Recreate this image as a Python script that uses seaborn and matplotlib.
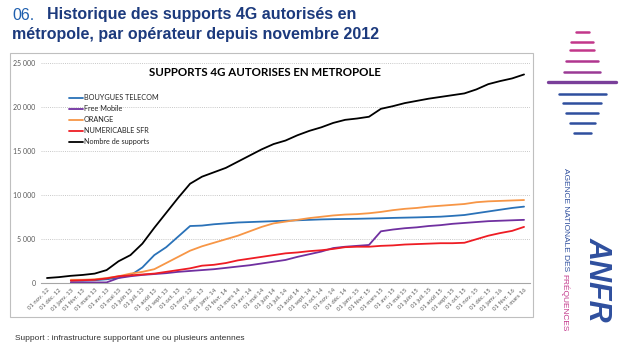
import numpy as np
import pandas as pd
import matplotlib
matplotlib.use("Agg")
import matplotlib.pyplot as plt
import seaborn as sns
from matplotlib.lines import Line2D
from matplotlib.patches import Rectangle

months = ["01 nov. 12", "01 déc. 12",
          "01 janv. 13", "01 févr. 13", "01 mars 13", "01 avr. 13", "01 mai 13", "01 juin 13",
          "01 juil. 13", "01 août 13", "01 sept. 13", "01 oct. 13", "01 nov. 13", "01 déc. 13",
          "01 janv. 14", "01 févr. 14", "01 mars 14", "01 avr. 14", "01 mai 14", "01 juin 14",
          "01 juil. 14", "01 août 14", "01 sept. 14", "01 oct. 14", "01 nov. 14", "01 déc. 14",
          "01 janv. 15", "01 févr. 15", "01 mars 15", "01 avr. 15", "01 mai 15", "01 juin 15",
          "01 juil. 15", "01 août 15", "01 sept. 15", "01 oct. 15", "01 nov. 15", "01 déc. 15",
          "01 janv. 16", "01 févr. 16", "01 mars 16"]

nan = np.nan
bouygues = [nan, nan, 300, 300, 350, 450, 650, 900, 1800, 3200, 4100, 5300, 6500, 6550,
            6700, 6800, 6900, 6950, 7000, 7050, 7100, 7150, 7200, 7250, 7280, 7300,
            7320, 7350, 7380, 7420, 7450, 7480, 7520, 7560, 7650, 7750, 7950, 8150,
            8350, 8550, 8700]
free = [nan, nan, 100, 100, 100, 100, 600, 800, 950, 1050, 1150, 1300, 1400, 1500,
        1600, 1750, 1900, 2050, 2250, 2450, 2650, 3000, 3300, 3600, 4000, 4150,
        4250, 4350, 5900, 6100, 6250, 6350, 6500, 6600, 6750, 6850, 6950, 7050,
        7100, 7150, 7200]
orange = [nan, nan, 400, 400, 450, 600, 800, 1100, 1300, 1600, 2300, 3000, 3700, 4200,
          4600, 5000, 5400, 5900, 6400, 6800, 7000, 7200, 7400, 7550, 7700, 7800,
          7850, 7950, 8100, 8300, 8450, 8550, 8700, 8800, 8900, 9000, 9200, 9300,
          9350, 9400, 9450]
sfr = [nan, nan, 300, 350, 400, 550, 800, 900, 1000, 1100, 1300, 1500, 1700, 2000,
       2100, 2300, 2600, 2800, 3000, 3200, 3400, 3500, 3650, 3750, 3900, 4100,
       4150, 4150, 4250, 4300, 4400, 4450, 4500, 4550, 4550, 4600, 5000, 5400,
       5700, 5950, 6400]
total = [600, 700, 850, 950, 1100, 1500, 2500, 3200, 4500, 6300, 8000, 9700, 11300, 12100,
         12600, 13100, 13800, 14500, 15200, 15800, 16200, 16800, 17300, 17700, 18200, 18550,
         18700, 18900, 19800, 20100, 20450, 20700, 20950, 21150, 21350, 21550, 22000, 22600,
         22950, 23250, 23700]

series_names = ["BOUYGUES TELECOM", "Free Mobile", "ORANGE", "NUMERICABLE SFR", "Nombre de supports"]
series_values = [bouygues, free, orange, sfr, total]
colors = ["#2a72b8", "#7030a0", "#f79646", "#ee1c24", "#000000"]
yticks = [0, 5000, 10000, 15000, 20000, 25000]
ytick_labels = ["0", "5 000", "10 000", "15 000", "20 000", "25 000"]

rows = []
for name, vals in zip(series_names, series_values):
    for i, v in enumerate(vals):
        rows.append({"idx": i, "serie": name, "value": v})
df = pd.DataFrame(rows).dropna()

sns.set_theme(style="white")
plt.rcParams["font.family"] = ["Liberation Sans", "DejaVu Sans"]

fig = plt.figure(figsize=(6.2, 3.5), dpi=100)
fig.patch.set_facecolor("white")
W, H = 620, 350
ax = fig.add_axes([41 / W, 1 - 283.3 / H, (530 - 41) / W, (283.3 - 63) / H])

sns.lineplot(data=df, x="idx", y="value", hue="serie", hue_order=series_names,
             palette=colors, linewidth=1.3, estimator=None, sort=False, ax=ax)

ax.set_xlim(-0.5, len(months) - 0.5)
ax.set_ylim(0, 25000)
ax.set_xlabel("")
ax.set_ylabel("")

ax.set_yticks(yticks)
ax.set_yticklabels(ytick_labels, fontsize=5, color="#595959", family="Lato")
ax.set_xticks(range(len(months)))
ax.set_xticklabels(months, rotation=45, ha="right", rotation_mode="anchor",
                   fontsize=4.3, color="#595959", family="Lato")
ax.tick_params(axis="x", length=0, pad=3)
ax.tick_params(axis="y", length=0, pad=4)
ax.set_xticks(np.arange(-0.5, len(months), 1), minor=True)
ax.tick_params(axis="x", which="minor", length=3, color="#a6a6a6", width=0.6)

for y in yticks[1:]:
    ax.axhline(y, color="#c8c8c8", lw=0.7, ls=(0, (1, 1.2)), zorder=0)
for s in ["left", "right", "top"]:
    ax.spines[s].set_visible(False)
ax.spines["bottom"].set_color("#a6a6a6")
ax.spines["bottom"].set_linewidth(0.8)

handles = [Line2D([0], [0], color=c, lw=1.3) for c in colors]
ax.legend(handles, series_names, loc="upper left", bbox_to_anchor=(0.058, 0.858),
          frameon=False, handlelength=1.9, handletextpad=0.1,
          labelspacing=0.55, borderpad=0, borderaxespad=0,
          prop={"family": "Lato", "size": 5.2})

ax.text(0.457, 0.955, "SUPPORTS 4G AUTORISES EN METROPOLE", transform=ax.transAxes,
        ha="center", va="center", fontsize=8.3, fontweight="bold", family="Lato",
        color="#000000")

# chart area border
fig.add_artist(Rectangle((10 / W, 1 - 317 / H), 523 / W, 264 / H, transform=fig.transFigure,
                         fill=False, edgecolor="#bfbfbf", lw=0.8))

# slide title
fig.text(12 / W, 1 - 15 / H, "06.", ha="left", va="center", fontsize=11.5,
         color="#1f5fae")
fig.text(47 / W, 1 - 15 / H, "Historique des supports 4G autorisés en", ha="left",
         va="center", fontsize=11.5, fontweight="bold", color="#1c3a7d")
fig.text(12 / W, 1 - 34 / H, "métropole, par opérateur depuis novembre 2012", ha="left",
         va="center", fontsize=11.5, fontweight="bold", color="#1c3a7d")

# footnote
fig.text(15 / W, 1 - 338 / H, "Support : infrastructure supportant une ou plusieurs antennes",
         ha="left", va="center", fontsize=6, color="#333333")

# ANFR logo (decoration)
stripes_y = [32, 42, 50, 61, 72, 82, 94, 103, 113, 123, 133]
stripes_w = [13, 22, 24, 32, 36, 68, 47, 38, 32, 25, 17]
stripes_c = ["#c2378a", "#c2378a", "#c2378a", "#b0358f", "#9a3a95", "#7a3f9a",
             "#2f4f9e", "#2f4f9e", "#2f4f9e", "#2f4f9e", "#2f4f9e"]
cx = 582
for yy, ww, cc in zip(stripes_y, stripes_w, stripes_c):
    lw = 2.4 if ww == 68 else 1.8
    fig.add_artist(Line2D([(cx - ww / 2) / W, (cx + ww / 2) / W], [1 - yy / H, 1 - yy / H],
                          transform=fig.transFigure, color=cc, lw=lw, solid_capstyle="round"))

t1 = fig.text(565 / W, 1 - 168 / H, "AGENCE NATIONALE DES", rotation=-90, ha="center", va="top",
              fontsize=6.0, color="#2f4f9e")
fig.canvas.draw()
bb = t1.get_window_extent(renderer=fig.canvas.get_renderer())
y_end = bb.y0 / fig.bbox.height - 3 / H
fig.text(565 / W, y_end, "FRÉQUENCES", rotation=-90, ha="center", va="top",
         fontsize=6.0, color="#c2378a")
fig.text(598 / W, 1 - 237 / H, "ANFR", rotation=-90, ha="center", va="top",
         fontsize=22, fontweight="bold", fontstyle="italic", color="#2f4f9e")

fig.savefig("out.png", dpi=100, facecolor="white")
